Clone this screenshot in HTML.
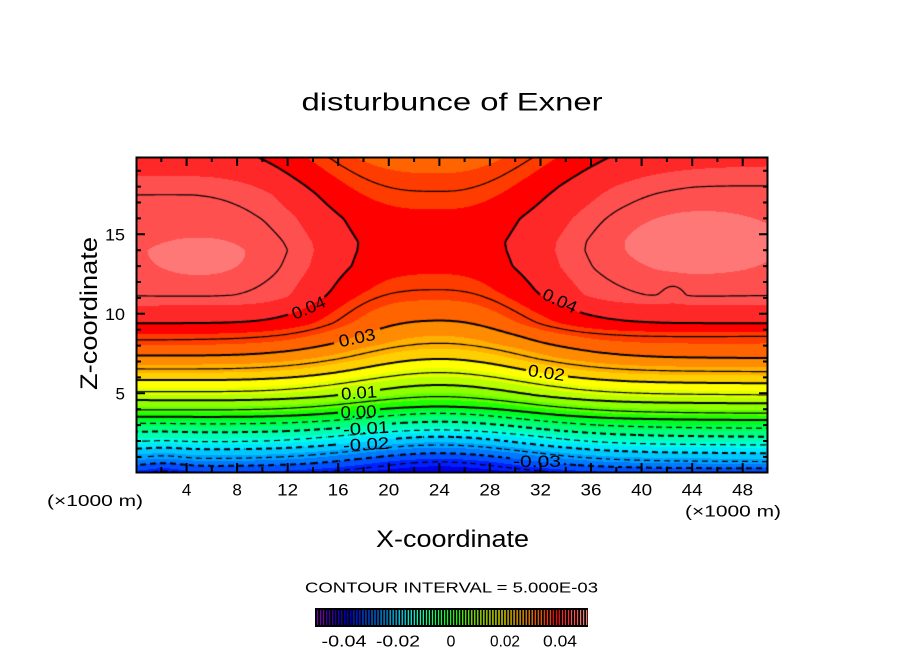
<!DOCTYPE html>
<html><head><meta charset="utf-8">
<style>
html,body{margin:0;padding:0;background:#fff;}
body{width:904px;height:654px;position:relative;overflow:hidden;font-family:"Liberation Sans",sans-serif;}
#cv{position:absolute;left:136px;top:157px;width:632px;height:316px;
background:linear-gradient(to top,#0020ff 0px,#0050ff 8px,#00c8ff 24px,#00ffb0 41px,#20ff00 56px,#b8ff00 73px,#ffff00 92px,#ffb000 104px,#ff6400 118px,#ff3c00 133px,#ff0000 150px,#ff2828 167px,#ff5050 183px,#ff7878 215px,#ff5050 278px,#ff2828 316px);}
#ov{position:absolute;left:0;top:0;}
text{font-family:"Liberation Sans",sans-serif;fill:#000;}
</style></head><body>
<canvas id="cv" width="632" height="316"></canvas>
<svg id="ov" width="904" height="654" viewBox="0 0 904 654" xmlns="http://www.w3.org/2000/svg">
<rect x="136.5" y="157.5" width="631" height="315" fill="none" stroke="#000" stroke-width="2"/>
<path stroke="#000" stroke-width="2" fill="none" d="M161.3 157v5M186.6 157v9M211.8 157v5M237.1 157v9M262.4 157v5M287.7 157v9M313 157v5M338.2 157v9M363.5 157v5M388.8 157v9M414.1 157v5M439.4 157v9M464.6 157v5M489.9 157v9M515.2 157v5M540.5 157v9M565.8 157v5M591 157v9M616.3 157v5M641.6 157v9M666.9 157v5M692.2 157v9M717.4 157v5M742.7 157v9
M161.3 472v-5M186.6 472v-9M211.8 472v-5M237.1 472v-9M262.4 472v-5M287.7 472v-9M313 472v-5M338.2 472v-9M363.5 472v-5M388.8 472v-9M414.1 472v-5M439.4 472v-9M464.6 472v-5M489.9 472v-9M515.2 472v-5M540.5 472v-9M565.8 472v-5M591 472v-9M616.3 472v-5M641.6 472v-9M666.9 472v-5M692.2 472v-9M717.4 472v-5M742.7 472v-9
M136 456.9h5M136 441h5M136 425.1h5M136 409.2h5M136 393.3h9M136 377.4h5M136 361.5h5M136 345.6h5M136 329.7h5M136 313.8h9M136 297.9h5M136 282h5M136 266.1h5M136 250.2h5M136 234.3h9M136 218.4h5M136 202.5h5M136 186.6h5M136 170.7h5
M768 456.9h-5M768 441h-5M768 425.1h-5M768 409.2h-5M768 393.3h-9M768 377.4h-5M768 361.5h-5M768 345.6h-5M768 329.7h-5M768 313.8h-9M768 297.9h-5M768 282h-5M768 266.1h-5M768 250.2h-5M768 234.3h-9M768 218.4h-5M768 202.5h-5M768 186.6h-5M768 170.7h-5"/>
<text x="301.5" y="110.7" font-size="25" textLength="301" lengthAdjust="spacingAndGlyphs">disturbunce of Exner</text>
<text transform="translate(97,313.5) rotate(-90)" text-anchor="middle" font-size="24" textLength="153" lengthAdjust="spacingAndGlyphs">Z-coordinate</text>
<text x="376" y="547" font-size="24" textLength="153" lengthAdjust="spacingAndGlyphs">X-coordinate</text>
<g font-size="17" text-anchor="middle">
<text x="186.6" y="495.5">4</text>
<text x="237.1" y="495.5">8</text>
<text x="287.7" y="495.5" textLength="21" lengthAdjust="spacingAndGlyphs">12</text>
<text x="338.2" y="495.5" textLength="21" lengthAdjust="spacingAndGlyphs">16</text>
<text x="388.8" y="495.5" textLength="21" lengthAdjust="spacingAndGlyphs">20</text>
<text x="439.4" y="495.5" textLength="21" lengthAdjust="spacingAndGlyphs">24</text>
<text x="489.9" y="495.5" textLength="21" lengthAdjust="spacingAndGlyphs">28</text>
<text x="540.5" y="495.5" textLength="21" lengthAdjust="spacingAndGlyphs">32</text>
<text x="591" y="495.5" textLength="21" lengthAdjust="spacingAndGlyphs">36</text>
<text x="641.6" y="495.5" textLength="21" lengthAdjust="spacingAndGlyphs">40</text>
<text x="692.2" y="495.5" textLength="21" lengthAdjust="spacingAndGlyphs">44</text>
<text x="742.7" y="495.5" textLength="21" lengthAdjust="spacingAndGlyphs">48</text>
</g>
<g font-size="17" text-anchor="end">
<text x="125" y="240.5" textLength="20" lengthAdjust="spacingAndGlyphs">15</text>
<text x="125" y="320" textLength="20" lengthAdjust="spacingAndGlyphs">10</text>
<text x="125" y="399.5">5</text>
</g>
<text x="47" y="506" font-size="16" textLength="96" lengthAdjust="spacingAndGlyphs">(×1000 m)</text>
<text x="685" y="516.5" font-size="16" textLength="96" lengthAdjust="spacingAndGlyphs">(×1000 m)</text>
<text x="305" y="592.5" font-size="15" textLength="293" lengthAdjust="spacingAndGlyphs">CONTOUR INTERVAL = 5.000E-03</text>
<rect x="315" y="608" width="273" height="19" fill="#000"/>
<g id="cbar"></g>
<g font-size="16" text-anchor="middle">
<text x="344" y="646.5" textLength="45" lengthAdjust="spacingAndGlyphs">-0.04</text>
<text x="398" y="646.5" textLength="44" lengthAdjust="spacingAndGlyphs">-0.02</text>
<text x="451" y="646.5">0</text>
<text x="505" y="646.5" textLength="30" lengthAdjust="spacingAndGlyphs">0.02</text>
<text x="560" y="646.5" textLength="34" lengthAdjust="spacingAndGlyphs">0.04</text>
</g>
<g font-size="17" text-anchor="middle">
<text transform="translate(308.5,307.5) rotate(-23)" y="6" textLength="35" lengthAdjust="spacingAndGlyphs">0.04</text>
<text transform="translate(357,337.5) rotate(-12)" y="6" textLength="37" lengthAdjust="spacingAndGlyphs">0.03</text>
<text transform="translate(359,392.5) rotate(-4)" y="6" textLength="36" lengthAdjust="spacingAndGlyphs">0.01</text>
<text transform="translate(358.5,411.5) rotate(-2)" y="6" textLength="36" lengthAdjust="spacingAndGlyphs">0.00</text>
<text transform="translate(366,428) rotate(-3)" y="6" textLength="46" lengthAdjust="spacingAndGlyphs">-0.01</text>
<text transform="translate(366,444) rotate(-3)" y="6" textLength="46" lengthAdjust="spacingAndGlyphs">-0.02</text>
<text transform="translate(560,300.5) rotate(25)" y="6" textLength="36" lengthAdjust="spacingAndGlyphs">0.04</text>
<text transform="translate(546.5,372.5) rotate(8)" y="6" textLength="37" lengthAdjust="spacingAndGlyphs">0.02</text>
<text transform="translate(537,461)" y="6" textLength="48" lengthAdjust="spacingAndGlyphs">-0.03</text>
</g>
</svg>
<script>
(function(){
var COL=["#7000b0","#4000a8","#2000c0","#0000e0","#0020ff","#0050ff","#0078ff","#00a0ff","#00c8ff","#00e8ff",
"#00ffe0","#00ffb0","#00ff80","#00ff50","#00ff20","#20ff00","#60ff00","#90ff00","#b8ff00","#e0ff00",
"#ffff00","#ffd000","#ffb000","#ff8c00","#ff6400","#ff3c00","#ff0000","#ff2828","#ff5050","#ff7878"];
var RGB=COL.map(function(h){return [parseInt(h.substr(1,2),16),parseInt(h.substr(3,2),16),parseInt(h.substr(5,2),16)];});
var g=document.getElementById('cbar'),NS="http://www.w3.org/2000/svg";
for(var k=0;k<30;k++){for(var m=0;m<3;m++){var r=document.createElementNS(NS,'rect');
r.setAttribute('x',(317+k*9.07+m*3).toFixed(2));r.setAttribute('y','610');r.setAttribute('width','1.2');r.setAttribute('height','15');
r.setAttribute('fill',COL[k]);g.appendChild(r);}}

var L=[[0,-0.034],[0.45,-0.03],[0.91,-0.025],[1.5,-0.02],[1.96,-0.015],[2.58,-0.01],[3.11,-0.005],[3.53,0],[3.95,0.005],[4.58,0.01],[5.10,0.015],[5.84,0.02],[6.53,0.025],[7.37,0.03],[8.35,0.035],[9.40,0.04],[11.08,0.045],[12.5,0.0457],[14.0,0.0462],[15.8,0.0457],[17.5,0.045],[19.9,0.0415]];
var R=[[0,-0.033],[0.28,-0.03],[0.7,-0.025],[1.23,-0.02],[1.75,-0.015],[2.27,-0.01],[2.8,-0.005],[3.32,0],[3.74,0.005],[4.37,0.01],[4.9,0.015],[5.63,0.02],[6.36,0.025],[7.2,0.03],[8.6,0.035],[9.40,0.04],[11.18,0.045],[12.8,0.0458],[14.6,0.0461],[16.4,0.0457],[18.0,0.045],[19.9,0.0425]];
var C=[[0,-0.039],[0.70,-0.035],[1.23,-0.03],[1.75,-0.025],[2.27,-0.02],[2.69,-0.015],[3.21,-0.01],[3.74,-0.005],[4.16,0],[4.79,0.005],[5.52,0.01],[6.3,0.015],[7.16,0.02],[8.14,0.025],[9.57,0.03],[11.5,0.035],[13,0.0375],[14.5,0.0382],[16,0.0375],[17.7,0.035],[19.9,0.0318]];
function pl(P,z){if(z<=P[0][0])return P[0][1];for(var i=1;i<P.length;i++){if(z<=P[i][0]){var a=P[i-1],b=P[i];return a[1]+(b[1]-a[1])*(z-a[0])/(b[0]-a[0]);}}return P[P.length-1][1];}
function sm(a,b,v){var t=(v-a)/(b-a);t=Math.max(0,Math.min(1,t));return t*t*(3-2*t);}
function F(x,z){
 var l=pl(L,z),r=pl(R,z),c=pl(C,z),a=x/50;
 var E=l*(1-a)+r*a;
 E+=0.0022*Math.exp(-Math.pow((x-5)/3.5,2)-Math.pow((z-13.5)/1.2,2));
 E+=0.0025*Math.exp(-Math.pow((x-44.5)/6,2)-Math.pow((z-14.5)/2.1,2));
 var d=Math.abs(x-24);
 var wl=Math.exp(-Math.pow(d/9,2));
 var zz=Math.max(0,z-14),wu;
 if(x<24){wu=Math.exp(-Math.pow(d/(9.7+0.4*zz),3.1));}
 else{wu=Math.exp(-Math.pow(d/(8.9+0.42*zz),2.4));}
 var t=sm(7.5,11,z);
 var w=(1-t)*wl+t*wu;
 var f=E-w*(E-c);
 f-=0.002*Math.exp(-Math.pow((x-2.2)/1.8,2))*Math.exp(-Math.pow(z/1.8,2));
 f-=0.0008*Math.exp(-Math.pow((x-42.5)/0.9,2)-Math.pow((z-11.4)/0.7,2));
 return f;
}
function zOf(cy){return (315.8-cy)/15.9;}
function xOf(cx){return cx/632*50;}
var cv=document.getElementById('cv'),ctx=cv.getContext('2d');
var W=632,H=316,img=ctx.createImageData(W,H),D=img.data;
for(var py=0;py<H;py++){var z=zOf(py+0.5);for(var px=0;px<W;px++){var f=F(xOf(px+0.5),z);
 var k=Math.floor((f+0.05)*300);if(k<0)k=0;if(k>29)k=29;var c=RGB[k],o=(py*W+px)*4;
 D[o]=c[0];D[o+1]=c[1];D[o+2]=c[2];D[o+3]=255;}}
ctx.putImageData(img,0,0);
var S=2,GX=317,GY=159,V=new Float32Array(GX*GY);
for(var j=0;j<GY;j++){var z2=zOf(j*S);for(var i=0;i<GX;i++){V[j*GX+i]=F(xOf(i*S),z2);}}
var boxes=[[0.04,152,140,193,163],[0.03,199,169,243,192],[0.01,202,226,244,245],[0.0,202,247,243,263],[-0.01,205,264,256,278],[-0.02,205,279,256,295],[0.04,405,129,443,158],[0.02,390,204,431,227],[-0.03,374,294,428,314]];
ctx.strokeStyle="#000";ctx.lineCap="butt";
for(var kk=-9;kk<=9;kk++){
 var lev=kk*0.005,thick=(kk%2===0),neg=kk<0;
 var bx=boxes.filter(function(b){return Math.abs(b[0]-lev)<1e-6;});
 ctx.beginPath();
 for(var j=0;j<GY-1;j++){for(var i=0;i<GX-1;i++){
  if(neg&&((i+j)%5)>=3)continue;
  var a=V[j*GX+i]-lev,b=V[j*GX+i+1]-lev,c=V[(j+1)*GX+i+1]-lev,d=V[(j+1)*GX+i]-lev;
  var pts=[];
  if((a>0)!==(b>0))pts.push([i*S+S*a/(a-b),j*S]);
  if((b>0)!==(c>0))pts.push([(i+1)*S,j*S+S*b/(b-c)]);
  if((c>0)!==(d>0))pts.push([(i+1)*S-S*c/(c-d),(j+1)*S]);
  if((d>0)!==(a>0))pts.push([i*S,(j+1)*S-S*d/(d-a)]);
  if(pts.length<2)continue;
  var mx=i*S+1,my=j*S+1,skip=false;
  for(var q=0;q<bx.length;q++){var B=bx[q];if(mx>=B[1]&&mx<=B[3]&&my>=B[2]&&my<=B[4]){skip=true;break;}}
  if(skip)continue;
  ctx.moveTo(pts[0][0],pts[0][1]);ctx.lineTo(pts[1][0],pts[1][1]);
  if(pts.length===4){ctx.moveTo(pts[2][0],pts[2][1]);ctx.lineTo(pts[3][0],pts[3][1]);}
 }}
 ctx.lineWidth=thick?2:1.2;
 ctx.stroke();
}
})();
</script>
</body></html>
